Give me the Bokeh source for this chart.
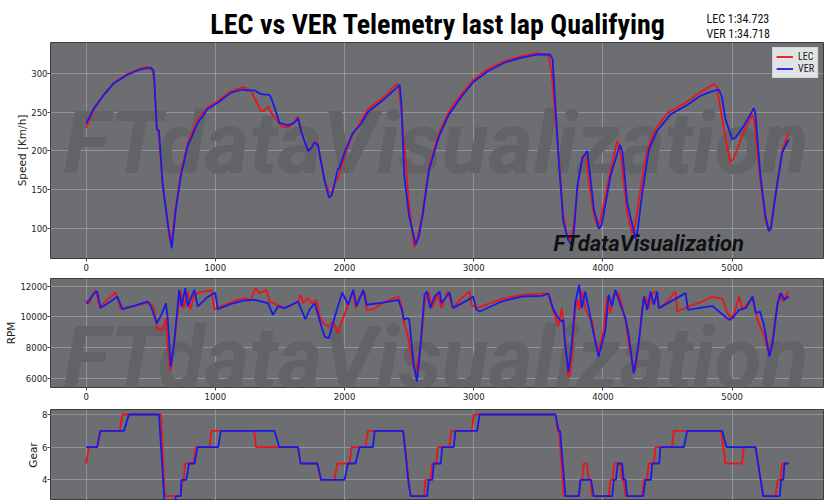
from bokeh.plotting import figure
from bokeh.layouts import column
from bokeh.models import Range1d, FixedTicker, Legend, LegendItem
from bokeh.core.properties import value
from bokeh.embed import file_html
from bokeh.resources import INLINE

TITLE = "LEC vs VER Telemetry last lap Qualifying"
LAP_TIMES = ["LEC 1:34.723", "VER 1:34.718"]
DRIVERS = ["LEC", "VER"]
WATERMARK = "FTdataVisualization"

X_TICKS = [0, 1000, 2000, 3000, 4000, 5000]
SPEED_TICKS = [100, 150, 200, 250, 300]
RPM_TICKS = [6000, 8000, 10000, 12000]
GEAR_TICKS = [2, 4, 6, 8]

# distance [m], speed [km/h]
LEC_SPEED = [(0,230),(60,253),(137,273),(215,288),(319,299),(422,306),(470,308),(510,304),(526,294),
             (547,228),(560,224),(591,160),(617,127),(642,92),(652,85),(665,92),(694,128),(733,172),
             (785,210),(863,240),(940,256),(1018,264),(1122,277),(1212,282),(1250,280),(1277,277),
             (1316,264),(1355,251),(1380,252),(1407,257),(1446,246),(1510,232),(1562,230),(1600,235),
             (1640,244),(1665,225),(1692,211),(1718,199),(1745,205),(1767,212),(1793,209),(1845,162),
             (1884,146),(1910,148),(1935,162),(1948,164),(1975,178),(2000,194),(2060,220),(2129,239),
             (2181,254),(2310,270),(2400,286),(2420,284),(2440,250),(2466,200),(2500,130),(2538,76),
             (2560,85),(2603,120),(2654,180),(2731,223),(2808,251),(2910,274),(3000,292),(3115,306),
             (3244,316),(3372,322),(3490,326),(3560,323),(3580,322),(3603,300),(3654,200),(3692,120),
             (3720,92),(3745,86),(3770,100),(3814,168),(3848,194),(3870,192),(3900,150),(3930,118),
             (3956,103),(3980,110),(4059,175),(4111,213),(4130,205),(4188,120),(4227,93),(4245,100),
             (4290,150),(4340,200),(4400,226),(4500,249),(4640,262),(4750,275),(4858,286),(4880,283),
             (4910,254),(4950,215),(4987,185),(5010,190),(5039,202),(5077,219),(5155,247),(5170,240),
             (5219,160),(5258,110),(5284,98),(5300,105),(5335,145),(5387,200),(5433,223)]
VER_SPEED = [(0,235),(60,255),(137,272),(215,287),(319,298),(422,305),(500,307),(520,304),(526,296),
             (547,228),(564,226),(591,159),(617,125),(642,95),(663,75),(694,125),(733,168),(785,206),
             (863,236),(940,254),(1018,262),(1122,275),(1212,279),(1240,278),(1303,278),(1355,273),
             (1420,272),(1446,262),(1497,236),(1562,233),(1610,236),(1640,242),(1666,224),(1718,200),
             (1745,204),(1767,211),(1793,208),(1845,162),(1880,140),(1900,143),(1922,158),(1948,177),
             (1960,178),(2000,198),(2060,222),(2129,235),(2181,250),(2310,267),(2427,285),(2440,260),
             (2462,168),(2500,116),(2551,80),(2575,90),(2603,116),(2654,176),(2731,219),(2808,247),
             (2910,271),(3000,289),(3115,303),(3244,314),(3372,320),(3500,324),(3590,324),(3610,318),
             (3654,198),(3692,110),(3730,86),(3755,80),(3775,95),(3802,155),(3840,191),(3879,200),
             (3900,170),(3930,125),(3969,100),(3990,105),(4059,168),(4131,208),(4150,200),(4188,133),
             (4253,87),(4270,100),(4304,146),(4356,202),(4420,226),(4523,247),(4652,259),(4755,271),
             (4832,276),(4897,279),(4920,270),(4948,241),(5000,215),(5026,217),(5090,232),(5168,255),
             (5180,248),(5219,168),(5258,116),(5284,97),(5300,100),(5335,142),(5387,198),(5438,215)]

# distance [m], engine RPM
LEC_RPM = [(0,11100),(21,10900),(73,11780),(106,10640),(176,11230),(228,11600),(267,10530),(370,10730),
           (487,10950),(526,10580),(547,9260),(591,9150),(617,9920),(624,8820),(648,6630),(655,6520),
           (689,8930),(720,11120),(733,11670),(754,10580),(785,11670),(806,10470),(837,11450),(863,11560),
           (915,11670),(971,11740),(992,10510),(1070,10800),(1174,11120),(1225,11230),(1277,11120),
           (1308,11890),(1342,11560),(1373,11670),(1394,11820),(1420,11010),(1484,10800),(1536,10580),
           (1601,10800),(1640,11010),(1661,11450),(1679,10900),(1718,11230),(1744,10900),(1782,11120),
           (1808,10030),(1834,9590),(1873,9370),(1912,9700),(1946,8930),(2003,10250),(2041,11120),
           (2067,11670),(2085,10580),(2119,11340),(2158,11560),(2171,10470),(2223,10510),(2313,11010),
           (2417,11340),(2443,10690),(2456,9700),(2482,9040),(2495,8500),(2534,6740),(2552,6190),
           (2573,7400),(2593,8280),(2619,10900),(2650,11670),(2676,10580),(2723,11450),(2749,10580),
           (2800,11670),(2839,10580),(2904,11230),(2969,11670),(2982,10800),(3021,10580),(3215,11170),
           (3370,11450),(3578,11560),(3604,10690),(3630,10030),(3655,9370),(3681,10580),(3694,9370),
           (3733,6080),(3746,6190),(3759,7400),(3785,10470),(3806,11120),(3816,10470),(3837,11670),
           (3863,10580),(3889,10030),(3915,9810),(3940,8500),(3966,7730),(4005,9100),(4031,11340),
           (4057,10250),(4083,11450),(4122,11560),(4148,10690),(4174,9810),(4199,8280),(4238,6410),
           (4251,6520),(4277,8280),(4303,10470),(4329,11340),(4355,10580),(4381,11560),(4407,11670),
           (4433,10580),(4484,10900),(4562,11670),(4575,10360),(4666,10690),(4769,11010),(4847,11340),
           (4925,11170),(4964,10250),(4990,9920),(5016,10250),(5054,11340),(5080,10470),(5119,10900),
           (5158,11230),(5184,10250),(5210,9480),(5236,9040),(5262,8280),(5288,7510),(5313,8600),
           (5339,10250),(5365,11560),(5391,11010),(5438,11670)]
VER_RPM = [(0,10900),(8,10900),(60,11560),(85,11670),(111,10580),(189,11010),(241,11340),(280,10510),
           (370,10730),(474,11010),(500,10730),(547,9590),(578,10070),(604,10580),(617,10900),(630,10030),
           (655,6740),(681,8280),(720,11780),(738,10690),(767,11890),(785,10690),(837,11780),(863,10690),
           (940,11300),(1000,11600),(1018,10510),(1122,10860),(1225,11080),(1303,11120),(1407,10900),
           (1446,10140),(1484,10690),(1536,10580),(1640,11010),(1697,9850),(1731,10510),(1769,10900),
           (1821,9370),(1847,8710),(1878,8600),(1925,10030),(1982,11600),(2028,10800),(2067,11780),
           (2093,10690),(2145,11780),(2171,10800),(2313,10950),(2417,11120),(2443,10470),(2461,9810),
           (2482,9920),(2500,9850),(2534,6960),(2560,5760),(2585,7840),(2619,11450),(2637,11670),
           (2663,10580),(2697,11340),(2736,11670),(2749,10900),(2813,11600),(2839,10580),(2956,11120),
           (2995,11340),(3021,10470),(3047,10360),(3215,11010),(3370,11340),(3526,11380),(3578,11520),
           (3617,10470),(3655,9920),(3681,9700),(3694,9810),(3707,8280),(3733,6410),(3759,8280),
           (3785,10900),(3816,12110),(3837,10580),(3863,11670),(3889,10580),(3927,8930),(3966,7400),
           (4018,9100),(4044,11450),(4070,10690),(4096,11780),(4135,10800),(4174,9920),(4199,8820),
           (4238,6300),(4277,8280),(4316,11340),(4342,10470),(4368,11670),(4394,10800),(4420,11670),
           (4433,10580),(4640,11560),(4658,10470),(4847,10730),(4938,10070),(4977,9810),(5003,9920),
           (5054,10470),(5106,10580),(5158,11340),(5184,10250),(5215,10360),(5249,9370),(5288,7400),
           (5313,8280),(5339,10030),(5352,10900),(5378,11560),(5404,11120),(5438,11340)]

# distance [m], gear
LEC_GEAR = [(0,5),(21,6),(85,6),(106,7),(260,7),(280,8),(580,8),(608,3),(732,3),(745,4),(755,4),(766,5),
            (830,5),(849,6),(955,6),(970,7),(1301,7),(1314,6),(1640,6),(1660,5),(1790,5),(1815,4),
            (1922,4),(1943,5),(2039,5),(2055,6),(2160,6),(2181,7),(2455,7),(2470,6),(2510,3),(2615,3),
            (2626,4),(2665,4),(2677,5),(2710,5),(2721,6),(2810,6),(2825,7),(2985,7),(3000,8),(3632,8),
            (3650,7),(3660,7),(3697,3),(3815,3),(3826,4),(3840,4),(3852,5),(3877,5),(3890,4),(3903,4),
            (3916,3),(4045,3),(4058,4),(4075,4),(4089,5),(4135,5),(4148,4),(4160,4),(4174,3),(4303,3),
            (4316,4),(4340,4),(4355,5),(4395,5),(4406,6),(4535,6),(4548,7),(4915,7),(4948,5),(5077,5),
            (5090,6),(5181,6),(5240,3),(5335,3),(5353,4),(5375,4),(5387,5),(5438,5)]
VER_GEAR = [(0,6),(85,6),(111,7),(293,7),(331,8),(564,8),(603,3),(610,2),(688,2),(693,3),(732,3),(737,4),
            (775,4),(797,5),(840,5),(862,6),(1022,6),(1043,7),(1457,7),(1495,6),(1640,6),(1660,5),
            (1790,5),(1819,4),(2000,4),(2026,5),(2085,5),(2116,6),(2220,6),(2233,7),(2453,7),(2480,5),
            (2492,4),(2512,3),(2639,3),(2652,4),(2680,4),(2690,5),(2745,5),(2755,6),(2845,6),(2858,7),
            (3026,7),(3046,8),(3632,8),(3658,7),(3668,7),(3710,3),(3813,3),(3826,4),(3908,4),(3929,3),
            (4071,3),(4084,4),(4100,4),(4115,5),(4148,5),(4161,4),(4175,4),(4187,3),(4311,3),(4329,4),
            (4370,4),(4381,5),(4435,5),(4445,6),(4626,6),(4652,7),(4923,7),(4956,6),(5181,6),(5240,3),
            (5369,3),(5379,4),(5395,4),(5405,5),(5438,5)]

RED = "#e8161c"
BLUE = "#1a1ae8"
BG = "#6c6e72"
GRID = "#9a9ca0"
WM_COLOR = "#616367"
COND = "Roboto Condensed"
TICK_FONT = "DejaVu Sans"

W = 840
HEAD_H = 42
LEFT = 50
RIGHT_BORDER = 17
XR = (-276, 5707)


def xs(pts):
    return [p[0] for p in pts]


def ys(pts):
    return [p[1] for p in pts]


def panel(height, yr, yticks, ylabel, bottom_border, show_x=True):
    p = figure(width=W, height=height, x_range=Range1d(*XR), y_range=Range1d(*yr),
               toolbar_location=None, output_backend="svg",
               min_border_left=LEFT, min_border_right=RIGHT_BORDER, min_border_top=0,
               min_border_bottom=bottom_border)
    p.background_fill_color = BG
    p.border_fill_color = "white"
    p.outline_line_color = "#3c3c3c"
    p.outline_line_width = 1
    p.grid.grid_line_color = GRID
    p.grid.grid_line_width = 1
    p.grid.grid_line_alpha = 0.8
    p.xaxis.ticker = FixedTicker(ticks=X_TICKS)
    p.yaxis.ticker = FixedTicker(ticks=yticks)
    for ax in (p.xaxis[0], p.yaxis[0]):
        ax.axis_line_color = None
        ax.major_tick_line_color = "#444444"
        ax.major_tick_out = 3
        ax.major_tick_in = 0
        ax.minor_tick_line_color = None
        ax.major_label_text_font = TICK_FONT
        ax.major_label_text_font_size = "8.5px"
        ax.major_label_text_color = "#222222"
        ax.major_label_standoff = 2
    p.yaxis.major_label_standoff = 0
    p.yaxis.axis_label = ylabel
    p.yaxis.axis_label_text_font = TICK_FONT
    p.yaxis.axis_label_text_font_style = "normal"
    p.yaxis.axis_label_text_font_size = "10.5px"
    p.yaxis.axis_label_text_color = "#222222"
    p.yaxis.axis_label_standoff = 0
    if not show_x:
        p.xaxis.visible = False
    return p


# header with title and lap times; its frame is aligned with the panels,
# so its x range is expressed in page pixels
head = figure(width=W, height=HEAD_H, x_range=Range1d(LEFT, W - RIGHT_BORDER),
              y_range=Range1d(0, HEAD_H),
              toolbar_location=None, output_backend="svg",
              min_border_left=LEFT, min_border_right=RIGHT_BORDER,
              min_border_top=0, min_border_bottom=0,
              x_axis_type=None, y_axis_type=None)
head.outline_line_color = None
head.grid.visible = False
head.text(x=[437.5], y=[18], text=[TITLE], text_font=value(COND), text_font_style="bold",
          text_font_size="28px", text_color="#000000", text_align="center",
          text_baseline="alphabetic")
head.text(x=[706, 706], y=[23.5, 8.5], text=LAP_TIMES, text_font=value(COND),
          text_font_size="12px", text_color="#111111", text_align="left",
          text_baseline="alphabetic")

# speed
p1 = panel(236, (61.8, 339.4), SPEED_TICKS, "Speed [Km/h]", 20)
p1.text(x=[-176], y=[210], text=[WATERMARK], text_font=value("Roboto"),
        text_font_style="bold italic", text_font_size="86px", text_color=WM_COLOR,
        text_align="left", text_baseline="alphabetic")
r_lec = p1.line(xs(LEC_SPEED), ys(LEC_SPEED), line_color=RED, line_width=1.8)
r_ver = p1.line(xs(VER_SPEED), ys(VER_SPEED), line_color=BLUE, line_width=1.8)
p1.text(x=[3617], y=[81], text=[WATERMARK], text_font=value("Roboto"),
        text_font_style="bold italic", text_font_size="22px", text_color="#111111",
        text_align="left", text_baseline="alphabetic")
legend = Legend(items=[LegendItem(label=DRIVERS[0], renderers=[r_lec]),
                       LegendItem(label=DRIVERS[1], renderers=[r_ver])],
                location="top_right", margin=5, padding=3, spacing=1,
                glyph_width=17, glyph_height=11, label_height=11, label_width=12,
                label_standoff=5,
                label_text_font=COND, label_text_font_size="10px",
                label_text_color="#222222",
                background_fill_color="white", background_fill_alpha=0.8,
                border_line_color="#cccccc", border_line_width=1)
p1.add_layout(legend)

# rpm
p2 = panel(131, (5380, 12520), RPM_TICKS, "RPM", 22)
p2.text(x=[-176], y=[7267], text=[WATERMARK], text_font=value("Roboto"),
        text_font_style="bold italic", text_font_size="86px", text_color=WM_COLOR,
        text_align="left", text_baseline="alphabetic")
p2.line(xs(LEC_RPM), ys(LEC_RPM), line_color=RED, line_width=1.8)
p2.line(xs(VER_RPM), ys(VER_RPM), line_color=BLUE, line_width=1.8)

# gear
p3 = panel(91, (2.737, 8.306), GEAR_TICKS, "Gear", 0, show_x=False)
p3.line(xs(LEC_GEAR), ys(LEC_GEAR), line_color=RED, line_width=1.8)
p3.line(xs(VER_GEAR), ys(VER_GEAR), line_color=BLUE, line_width=1.8)

layout = column(head, p1, p2, p3, spacing=0)
open("out.html", "w").write(file_html(layout, INLINE))
